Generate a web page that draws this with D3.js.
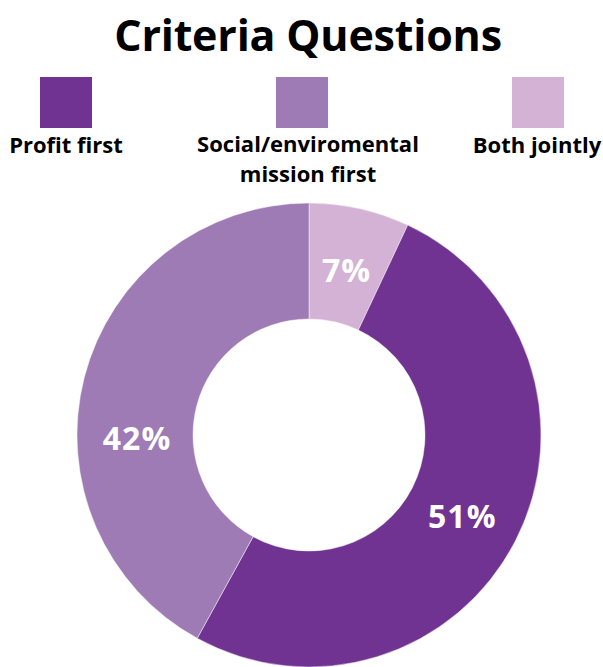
<!DOCTYPE html>
<html>
<head>
<meta charset="utf-8">
<script src="https://cdn.jsdelivr.net/npm/d3@7"></script>
<style>
  html, body { margin: 0; padding: 0; background: #fff; }
  svg { display: block; }
  text { font-family: "Open Sans", "Noto Sans", sans-serif; }
</style>
</head>
<body>
<div id="chart"></div>
<script>
// Survey answers: which should come first for a social enterprise
const categories = ["Both jointly", "Profit first", "Social/enviromental mission first"];
const values = [7, 51, 42];
const colors = ["#d4b2d6", "#713391", "#9e7bb5"];

// Legend order and wrapped label lines
const legendOrder = ["Profit first", "Social/enviromental mission first", "Both jointly"];
const legendLines = [["Profit first"], ["Social/enviromental", "mission first"], ["Both jointly"]];

const W = 603, H = 667;
const svg = d3.select("#chart").append("svg").attr("width", W).attr("height", H);

svg.append("text")
  .attr("x", 308).attr("y", 51)
  .attr("text-anchor", "middle")
  .attr("font-size", 43).attr("font-weight", 700)
  .attr("letter-spacing", -0.2)
  .attr("fill", "#000")
  .text("Criteria Questions");

const color = d3.scaleOrdinal().domain(categories).range(colors);

// Legend: swatch row with labels underneath
const legendX = d3.scalePoint().domain(legendOrder).range([66, 538]);
const legendTextX = [66, 308, 537];
const lg = svg.append("g");
legendOrder.forEach((c, i) => {
  lg.append("rect")
    .attr("x", legendX(c) - 26).attr("y", 77)
    .attr("width", 52).attr("height", 51)
    .attr("fill", color(c));
  const lines = legendLines[i];
  const top = lines.length > 1 ? 151.5 : 153;
  lines.forEach((line, j) => {
    lg.append("text")
      .attr("x", legendTextX[i]).attr("y", top + j * 30)
      .attr("text-anchor", "middle")
      .attr("font-size", 22).attr("font-weight", 700)
      .attr("fill", "#000")
      .text(line);
  });
});

// Donut
const cx = 309, cy = 435, rOuter = 232, rInner = 116;
const pie = d3.pie().sort(null).value(d => d.value);
const arcs = pie(categories.map((c, i) => ({ name: c, value: values[i] })));
const arc = d3.arc().innerRadius(rInner).outerRadius(rOuter);

const g = svg.append("g").attr("transform", `translate(${cx},${cy})`);
g.selectAll("path.slice")
  .data(arcs)
  .join("path")
  .attr("class", "slice")
  .attr("d", arc)
  .attr("fill", d => color(d.data.name))
  .attr("stroke", "#ffffff")
  .attr("stroke-opacity", 0.45)
  .attr("stroke-width", 1);

// Percent labels near mid-ring, the large left slice label sits a little lower
const labelShift = { "Social/enviromental mission first": -14.5 * Math.PI / 180 };
const rLabel = (rInner + rOuter) / 2 - 2;
g.selectAll("text.pct")
  .data(arcs)
  .join("text")
  .attr("class", "pct")
  .attr("text-anchor", "middle")
  .attr("dominant-baseline", "central")
  .attr("font-size", 32).attr("font-weight", 700)
  .attr("letter-spacing", 1)
  .attr("fill", "#fff")
  .attr("transform", d => {
    const a = (d.startAngle + d.endAngle) / 2 + (labelShift[d.data.name] || 0);
    return `translate(${rLabel * Math.sin(a)},${-rLabel * Math.cos(a) + 2})`;
  })
  .text(d => d.data.value + "%");
</script>
</body>
</html>
